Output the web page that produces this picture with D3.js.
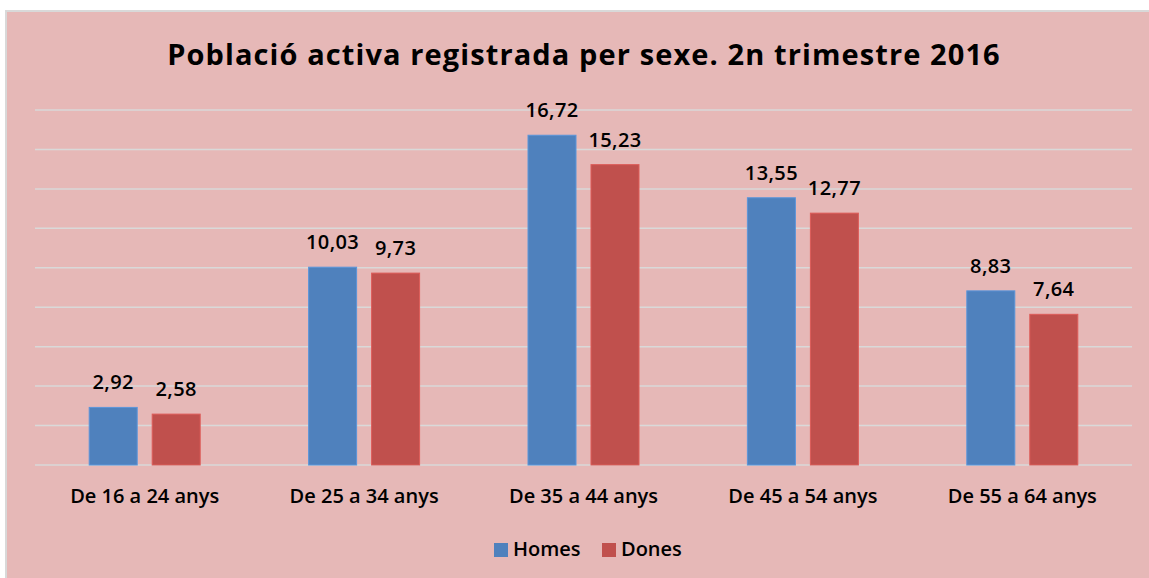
<!DOCTYPE html>
<html>
<head>
<meta charset="utf-8">
<script src="https://cdn.jsdelivr.net/npm/d3@7"></script>
<style>
  body{margin:0;background:#fff;}
  text{font-family:"Open Sans",sans-serif;fill:#000;}
</style>
</head>
<body>
<div id="chart"></div>
<script>
//Chart size;
const w=1149;
const h=578;

//Data;
const categories=["De 16 a 24 anys","De 25 a 34 anys","De 35 a 44 anys","De 45 a 54 anys","De 55 a 64 anys"];
const series=["Homes","Dones"];
const homes=[2.92,10.03,16.72,13.55,8.83];
const dones=[2.58,9.73,15.23,12.77,7.64];
const gridTicks=[0,2,4,6,8,10,12,14,16,18];
const colors=["#4F81BD","#C0504D"];

const values=[homes,dones];
const fmt=d3.format(".2f");
const lbl=function(v){ return fmt(v).replace(".",","); };

//Initialize SVG;
const svg=d3.select("#chart")
  .append("svg")
    .attr("width",w)
    .attr("height",h);

//Background with border;
svg.append("rect")
  .attr("x",6).attr("y",11)
  .attr("width",w-5).attr("height",h-10)
  .attr("fill","#E6B8B7")
  .attr("stroke","#D9D9D9")
  .attr("stroke-width",2);

//Scales;
const x=d3.scaleBand()
  .domain(categories)
  .range([35,1132]);

const half=55.5;
const xSub=d3.scaleBand()
  .domain(series)
  .range([x.bandwidth()/2-half,x.bandwidth()/2+half])
  .paddingInner(0.238);

const y=d3.scaleLinear()
  .domain([0,18])
  .range([465,110]);

//Gridlines;
svg.append("g")
  .selectAll("line")
  .data(gridTicks)
  .enter()
  .append("line")
    .attr("x1",35).attr("x2",1132)
    .attr("y1",function(d){ return y(d); })
    .attr("y2",function(d){ return y(d); })
    .attr("stroke","#D9D9D9")
    .attr("stroke-width",1.5);

//Title;
svg.append("text")
  .attr("x",584).attr("y",65)
  .attr("text-anchor","middle")
  .style("font-size","29px")
  .style("font-weight","bold")
  .style("letter-spacing","1.1px")
  .text("Població activa registrada per sexe. 2n trimestre 2016");

//Bars;
series.forEach(function(s,i){
  const g=svg.append("g");
  g.selectAll("rect")
    .data(values[i])
    .enter()
    .append("rect")
      .attr("x",function(d,j){ return x(categories[j])+xSub(s); })
      .attr("y",function(d){ return y(d); })
      .attr("width",xSub.bandwidth())
      .attr("height",function(d){ return y(0)-y(d); })
      .attr("fill",colors[i])
      .attr("stroke",d3.color(colors[i]).brighter(0.4))
      .attr("stroke-width",1);

  g.selectAll("text")
    .data(values[i])
    .enter()
    .append("text")
      .attr("x",function(d,j){ return x(categories[j])+xSub(s)+xSub.bandwidth()/2; })
      .attr("y",function(d){ return y(d)-18; })
      .attr("text-anchor","middle")
      .style("font-size","20px")
      .style("font-weight","600")
      .style("letter-spacing","0.4px")
      .text(lbl);
});

//Category labels;
svg.append("g")
  .selectAll("text")
  .data(categories)
  .enter()
  .append("text")
    .attr("x",function(d){ return x(d)+x.bandwidth()/2; })
    .attr("y",503)
    .attr("text-anchor","middle")
    .style("font-size","20px")
    .style("font-weight","600")
    .text(function(d){ return d; });

//Legend;
const legX=[494,602];
series.forEach(function(s,i){
  svg.append("rect")
    .attr("x",legX[i]).attr("y",543)
    .attr("width",14).attr("height",14)
    .attr("fill",colors[i]);
  svg.append("text")
    .attr("x",legX[i]+19).attr("y",556)
    .style("font-size","20px")
    .style("font-weight","600")
    .text(s);
});
</script>
</body>
</html>
